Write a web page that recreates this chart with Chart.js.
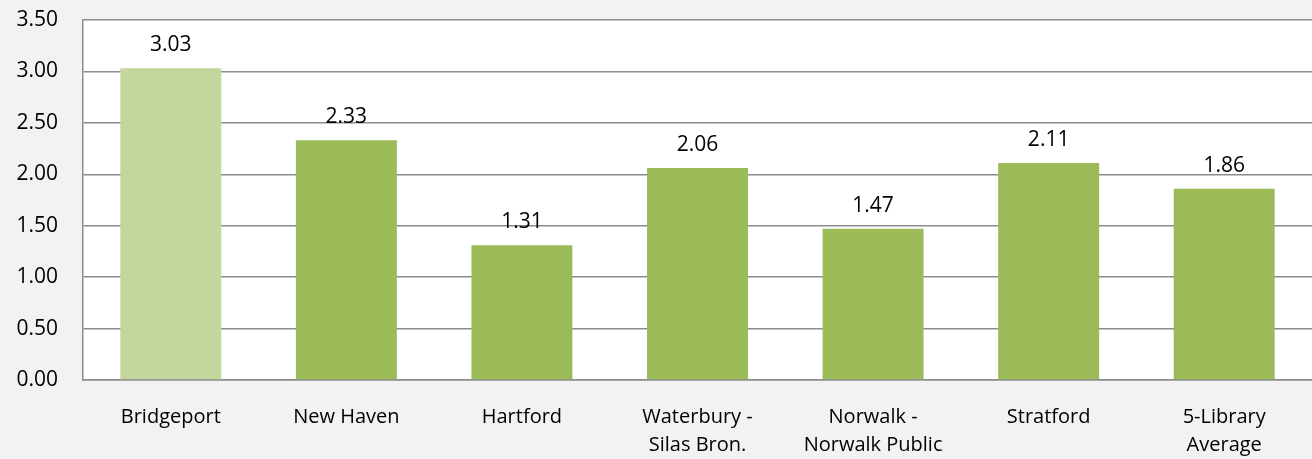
<!DOCTYPE html>
<html lang="en">
<head>
    <meta charset="UTF-8">
    <title>Library Chart</title>
    <style>
        html, body {
            margin: 0;
            padding: 0;
            background: #f2f2f2;
        }

        #wrap {
            width: 1312px;
            height: 459px;
        }
    </style>
</head>
<body>
    <div id="wrap"><canvas id="chart"></canvas></div>
    <script src="https://cdn.jsdelivr.net/npm/chart.js"></script>
    <script>
        const categories = [
            'Bridgeport',
            'New Haven',
            'Hartford',
            ['Waterbury -', 'Silas Bron.'],
            ['Norwalk -', 'Norwalk Public'],
            'Stratford',
            ['5-Library', 'Average']
        ];
        const values = [3.03, 2.33, 1.31, 2.06, 1.47, 2.11, 1.86];
        const yTicks = [0, 0.5, 1, 1.5, 2, 2.5, 3, 3.5];

        const FONT = '"Open Sans", sans-serif';
        const SIZE = 21;

        // white plot area behind the bars
        const plotBg = {
            id: 'plotBg',
            beforeDraw(chart) {
                const { ctx, chartArea: a } = chart;
                ctx.save();
                ctx.fillStyle = '#ffffff';
                ctx.fillRect(a.left, a.top, a.right - a.left, a.bottom - a.top);
                ctx.restore();
            }
        };

        // value labels over each bar
        const valueLabels = {
            id: 'valueLabels',
            afterDatasetsDraw(chart) {
                const { ctx } = chart;
                const meta = chart.getDatasetMeta(0);
                ctx.save();
                ctx.font = SIZE + 'px ' + FONT;
                ctx.fillStyle = '#000';
                ctx.textAlign = 'center';
                ctx.textBaseline = 'alphabetic';
                meta.data.forEach((bar, i) => {
                    ctx.fillText(values[i].toFixed(2), bar.x, bar.y - 17);
                });
                ctx.restore();
            }
        };

        new Chart(document.getElementById('chart'), {
            type: 'bar',
            data: {
                labels: categories,
                datasets: [{
                    data: values,
                    backgroundColor: values.map((_, i) => i === 0 ? '#c3d69b' : '#9bbb59'),
                    barPercentage: 0.575,
                    categoryPercentage: 1
                }]
            },
            options: {
                responsive: true,
                maintainAspectRatio: false,
                animation: false,
                layout: {
                    padding: { top: 20, right: 0, left: 0, bottom: 0 }
                },
                plugins: {
                    legend: { display: false },
                    tooltip: { enabled: false }
                },
                scales: {
                    x: {
                        grid: { display: false, drawTicks: false },
                        border: { color: '#8c8c8c', width: 1.5 },
                        ticks: {
                            color: '#000',
                            font: { family: FONT, size: 20, lineHeight: 1.4 },
                            padding: 23,
                            maxRotation: 0,
                            autoSkip: false
                        },
                        afterFit(scale) { scale.height = 79; }
                    },
                    y: {
                        min: 0,
                        max: 3.5,
                        afterBuildTicks(scale) {
                            scale.ticks = yTicks.map(v => ({ value: v }));
                        },
                        grid: { color: '#8c8c8c', lineWidth: 1.5, drawTicks: false },
                        border: { color: '#8c8c8c', width: 1.5 },
                        ticks: {
                            color: '#000',
                            font: { family: FONT, size: SIZE },
                            padding: 25,
                            callback: v => Number(v).toFixed(2)
                        },
                        afterFit(scale) {
                            scale.width = 83;
                            scale.paddingTop = 14;
                            scale.paddingBottom = 14;
                        }
                    }
                }
            },
            plugins: [plotBg, valueLabels]
        });
    </script>
</body>
</html>
